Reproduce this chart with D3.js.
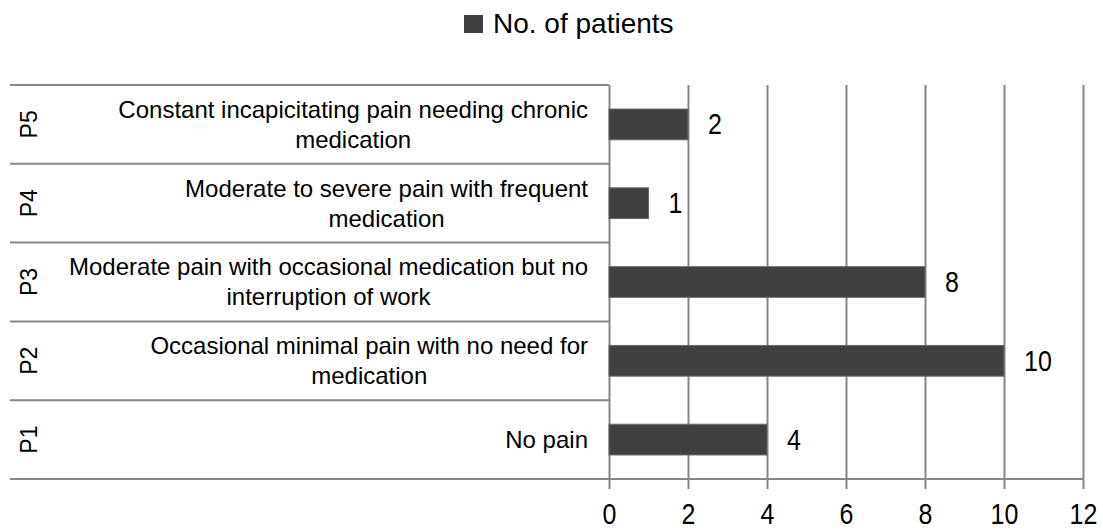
<!DOCTYPE html>
<html>
<head>
<meta charset="utf-8">
<script src="https://cdn.jsdelivr.net/npm/d3@7"></script>
<style>
  body { margin: 0; background: #fff; }
  svg { font-family: "Liberation Sans", Arial, sans-serif; }
</style>
</head>
<body>
<script>
// data
const codes = ["P5", "P4", "P3", "P2", "P1"];
const descriptions = [
    ["Constant incapicitating pain needing chronic", "medication"],
    ["Moderate to severe pain with frequent", "medication"],
    ["Moderate pain with occasional medication but no", "interruption of work"],
    ["Occasional minimal pain with no need for", "medication"],
    ["No pain"]
];
const patients = [2, 1, 8, 10, 4];
const xTicks = [0, 2, 4, 6, 8, 10, 12];
const seriesName = "No. of patients";

const w = 1103;
const h = 532;
const plotLeft = 609, plotRight = 1083, plotTop = 85, plotBottom = 479;
const lineColor = "#878787";
const barColor = "#404040";
const digitStretch = 1.15; // numbers in the reference look a bit taller than wide

const svg = d3.select("body")
    .append("svg")
    .attr("width", w)
    .attr("height", h);

const xScale = d3.scaleLinear()
    .domain([0, 12])
    .range([plotLeft, plotRight]);

const yScale = d3.scaleBand()
    .domain(codes)
    .range([plotTop, plotBottom])
    .padding(0);

// legend
svg.append("rect")
    .attr("x", 464).attr("y", 15)
    .attr("width", 19).attr("height", 18)
    .attr("fill", barColor);
svg.append("text")
    .attr("x", 493).attr("y", 33)
    .attr("font-size", 28)
    .attr("fill", "#000")
    .text(seriesName);

// vertical gridlines + tick marks below the axis
svg.append("g")
    .attr("transform", `translate(0,${plotTop})`)
    .call(d3.axisBottom(xScale).tickValues(xTicks).tickSize(plotBottom - plotTop + 10).tickFormat(""))
    .call(g => g.select(".domain").remove())
    .call(g => g.selectAll("line").attr("stroke", lineColor).attr("stroke-width", 2));

// category separators
const bounds = codes.map(c => yScale(c)).concat([plotBottom]);
svg.append("g")
    .selectAll("line")
    .data(bounds)
    .enter()
    .append("line")
    .attr("x1", 10)
    .attr("x2", (d, i) => i === bounds.length - 1 ? plotRight : plotLeft)
    .attr("y1", d => d)
    .attr("y2", d => d)
    .attr("stroke", lineColor)
    .attr("stroke-width", 2);

// bars
const barH = yScale.bandwidth() * 0.39;
svg.selectAll("rect.bar")
    .data(patients)
    .enter()
    .append("rect")
    .attr("class", "bar")
    .attr("x", xScale(0))
    .attr("y", (d, i) => yScale(codes[i]) + (yScale.bandwidth() - barH) / 2)
    .attr("width", d => xScale(d) - xScale(0))
    .attr("height", barH)
    .attr("fill", barColor)
    .attr("stroke", "#6a6a6a")
    .attr("stroke-width", 1);

// value labels
svg.selectAll("text.val")
    .data(patients)
    .enter()
    .append("text")
    .attr("class", "val")
    .attr("transform", (d, i) =>
        `translate(${xScale(d) + 20},${yScale(codes[i]) + yScale.bandwidth() / 2}) scale(1,${digitStretch})`)
    .attr("dy", "0.35em")
    .attr("font-size", 25)
    .text(d => d);

// x tick labels
svg.append("g")
    .attr("transform", `translate(0,${plotBottom})`)
    .call(d3.axisBottom(xScale).tickValues(xTicks).tickSize(0).tickPadding(21))
    .call(g => g.select(".domain").remove())
    .call(g => g.selectAll("text")
        .attr("font-size", 25)
        .attr("fill", "#000")
        .attr("transform", `scale(1,${digitStretch})`)
        .attr("font-family", "Liberation Sans, Arial, sans-serif"));

// rotated code labels
svg.selectAll("text.code")
    .data(codes)
    .enter()
    .append("text")
    .attr("class", "code")
    .attr("transform", d => `translate(37,${yScale(d) + yScale.bandwidth() / 2}) rotate(-90)`)
    .attr("text-anchor", "middle")
    .attr("font-size", 23)
    .text(d => d);

// description labels: block right-aligned, lines centred in the block
const textRight = 588;
const lineGap = 30;
descriptions.forEach((lines, i) => {
    const g = svg.append("g");
    const cy = yScale(codes[i]) + yScale.bandwidth() / 2;
    const texts = g.selectAll("text")
        .data(lines)
        .enter()
        .append("text")
        .attr("font-size", 24)
        .attr("text-anchor", "middle")
        .attr("y", (d, j) => cy + (j - (lines.length - 1) / 2) * lineGap)
        .attr("dy", "0.35em")
        .text(d => d);
    let maxW = 0;
    texts.each(function() { maxW = Math.max(maxW, this.getComputedTextLength()); });
    texts.attr("x", textRight - maxW / 2);
});
</script>
</body>
</html>
